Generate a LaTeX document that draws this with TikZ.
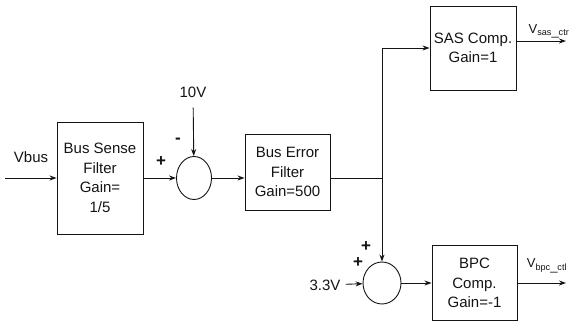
\documentclass[tikz,border=0pt]{standalone}
\usepackage{fontspec}
\setmainfont{Liberation Sans}
\definecolor{scanblack}{RGB}{20, 20, 20}
\usetikzlibrary{arrows.meta, positioning, shapes.geometric}
\tikzstyle{block} = [draw=scanblack, line width=0.9pt, align=center, inner sep=2pt,
                     font=\fontsize{15}{19.5}\selectfont, text=scanblack]
\tikzstyle{summer} = [draw=scanblack, line width=0.9pt, ellipse, inner sep=0pt]
\tikzstyle{sig} = [-{Stealth[length=7pt, width=5pt]}, scanblack, line width=0.9pt]
\tikzstyle{lbl} = [font=\fontsize{15}{18}\selectfont, text=scanblack, inner sep=1pt]
\tikzstyle{sign} = [font=\fontsize{17}{18}\selectfont\bfseries, text=scanblack, inner sep=1pt]

\begin{document}
\begin{tikzpicture}[x=1pt, y=-1pt]
                    \useasboundingbox (0,0) rectangle (588,332);
                    % blocks
                    \node[block, minimum width=86, minimum height=112] (sense) at (100, 178) {Bus Sense\\Filter\\Gain=\\1/5};
                    \node[summer, minimum width=35, minimum height=43] (sum1) at (194, 178) {};
                    \node[block, minimum width=85, minimum height=76] (error) at (287.5, 172) {Bus Error\\Filter\\Gain=500};
                    \node[block, minimum width=86, minimum height=84] (sas) at (473, 48) {SAS Comp.\\Gain=1};
                    \node[summer, minimum width=38, minimum height=42] (sum2) at (382, 283) {};
                    \node[block, minimum width=85, minimum height=75] (bpc) at (474.5, 283) {BPC\\Comp.\\Gain=-1};
                    % inputs and outputs
                    \node[lbl] (vbus) at (31, 157) {Vbus};
                    \coordinate (vin) at (5, 178);
                    \node[lbl] (ref10) at (193, 92) {10V};
                    \node[lbl] (ref33) at (325, 285) {3.3V};
                    \coordinate (branch) at (382, 178);
                    \coordinate (sasout) at (566, 41);
                    \coordinate (bpcout) at (566, 283);
                    \node[lbl, font=\fontsize{13}{15}\selectfont] (sasname) at (549, 31) {V$_{\mathrm{sas\_ctr}}$};
                    \node[lbl, font=\fontsize{13}{15}\selectfont] (bpcname) at (547, 266) {V$_{\mathrm{bpc\_ctl}}$};
                    % signs
                    \node[sign] (p1) at (161, 162) {+};
                    \node[sign] (m1) at (178, 141) {-};
                    \node[sign] (p2) at (366, 247) {+};
                    \node[sign] (p3) at (358, 263) {+};
                    % connectors
                    \draw[sig] (vin) -- (sense);
                    \draw[sig] (sense) -- (sum1);
                    \draw[sig, shorten <=9pt] (ref10) -- (sum1);
                    \draw[sig] (sum1.east) -- (sum1.east -| error.west);
                    \draw[scanblack, line width=0.9pt] (error.east |- branch) -- (branch);
                    \draw[sig] (branch) |- (sas);
                    \draw[sig] (branch) -- (sum2);
                    \draw[sig, shorten <=4pt] (ref33) -- (sum2);
                    \draw[sig] (sum2) -- (bpc);
                    \draw[sig] (sas.east |- sasout) -- (sasout);
                    \draw[sig] (bpc) -- (bpcout);
                \end{tikzpicture}
\end{document}
